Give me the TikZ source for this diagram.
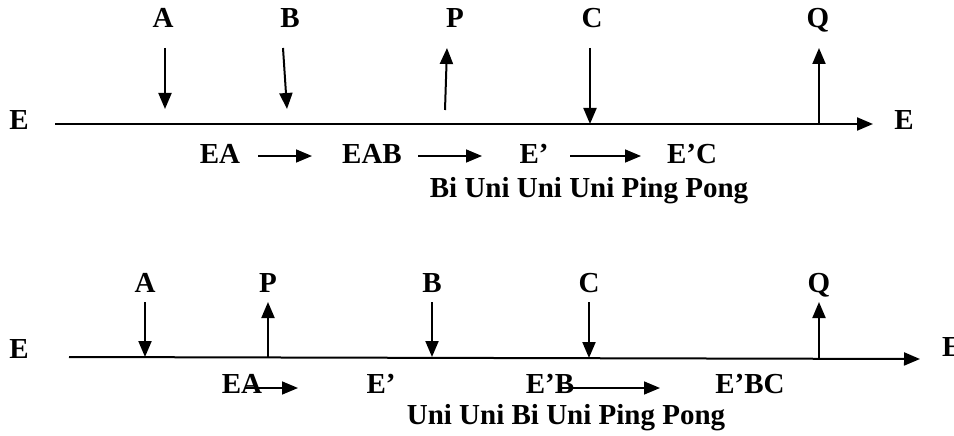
\documentclass[tikz,border=0pt]{standalone}
\usepackage{fontspec}
\setmainfont{Liberation Serif}
\usetikzlibrary{arrows.meta}
\begin{document}
\begin{tikzpicture}[x=1pt,y=-1pt,
  lbl/.style={font=\bfseries\fontsize{29}{34}\selectfont, inner sep=0pt, anchor=base},
  arr/.style={line width=2pt, -{Triangle[length=16pt,width=13pt]}},
  sarr/.style={line width=1.6pt, -{Triangle[length=16pt,width=13pt]}}]
\useasboundingbox (0,0) rectangle (954,436);
% ---------- top diagram ----------
\node[lbl] (E1) at (19,129) {E};
\node[lbl] (E2) at (904,129) {E};
\node[lbl] (A1) at (163,28) {A};
\node[lbl] (B1) at (290,28) {B};
\node[lbl] (P1) at (455,28) {P};
\node[lbl] (C1) at (592,28) {C};
\node[lbl] (Q1) at (818,28) {Q};
\coordinate (L1s) at (55,124);
\coordinate (L1e) at (873,124);
\draw[arr] (L1s) -- (L1e);
\coordinate (a1t) at (165,48); \coordinate (a1b) at (165,109);
\coordinate (b1t) at (283,48); \coordinate (b1b) at (287,109);
\coordinate (p1t) at (447,48); \coordinate (p1b) at (445,110);
\coordinate (c1t) at (590,48); \coordinate (c1b) at (590,124);
\coordinate (q1t) at (819,48); \coordinate (q1b) at (819,124);
\draw[arr] (a1t) -- (a1b);
\draw[arr] (b1t) -- (b1b);
\draw[arr] (p1b) -- (p1t);
\draw[arr] (c1t) -- (c1b);
\draw[arr] (q1b) -- (q1t);
\node[lbl] (EA1) at (220,163) {EA};
\node[lbl] (EAB1) at (372,163) {EAB};
\node[lbl] (Ep1) at (534,163) {E’};
\node[lbl] (EpC1) at (692,163) {E’C};
\coordinate (r1a) at (258,156); \coordinate (r1b) at (312,156);
\coordinate (r2a) at (418,156); \coordinate (r2b) at (482,156);
\coordinate (r3a) at (570,156); \coordinate (r3b) at (641,156);
\draw[sarr] (r1a) -- (r1b);
\draw[sarr] (r2a) -- (r2b);
\draw[sarr] (r3a) -- (r3b);
\node[lbl] (cap1) at (589,197) {Bi Uni Uni Uni Ping Pong};
% ---------- bottom diagram ----------
\node[lbl] (E3) at (19,358) {E};
\node[lbl, anchor=base west] (E4) at (942,356) {E};
\node[lbl] (A2) at (145,292) {A};
\node[lbl] (P2) at (268,292) {P};
\node[lbl] (B2) at (432,292) {B};
\node[lbl] (C2) at (589,292) {C};
\node[lbl] (Q2) at (819,292) {Q};
\coordinate (L2s) at (69,357);
\coordinate (L2e) at (920,359);
\draw[arr] (L2s) -- (L2e);
\coordinate (a2t) at (145,302); \coordinate (a2b) at (145,357);
\coordinate (p2t) at (268,302); \coordinate (p2b) at (268,357);
\coordinate (b2t) at (432,302); \coordinate (b2b) at (432,357);
\coordinate (c2t) at (589,302); \coordinate (c2b) at (589,358);
\coordinate (q2t) at (819,302); \coordinate (q2b) at (819,358);
\draw[arr] (a2t) -- (a2b);
\draw[arr] (p2b) -- (p2t);
\draw[arr] (b2t) -- (b2b);
\draw[arr] (c2t) -- (c2b);
\draw[arr] (q2b) -- (q2t);
\node[lbl] (EA2) at (242,393) {EA};
\node[lbl] (Ep2) at (381,393) {E’};
\node[lbl] (EpB2) at (550,393) {E’B};
\node[lbl] (EpBC2) at (750,393) {E’BC};
\coordinate (s1a) at (245,388); \coordinate (s1b) at (298,388);
\coordinate (s2a) at (558,388); \coordinate (s2b) at (660,388);
\draw[sarr] (s1a) -- (s1b);
\draw[sarr] (s2a) -- (s2b);
\node[lbl] (cap2) at (566,424) {Uni Uni Bi Uni Ping Pong};
\end{tikzpicture}
\end{document}
